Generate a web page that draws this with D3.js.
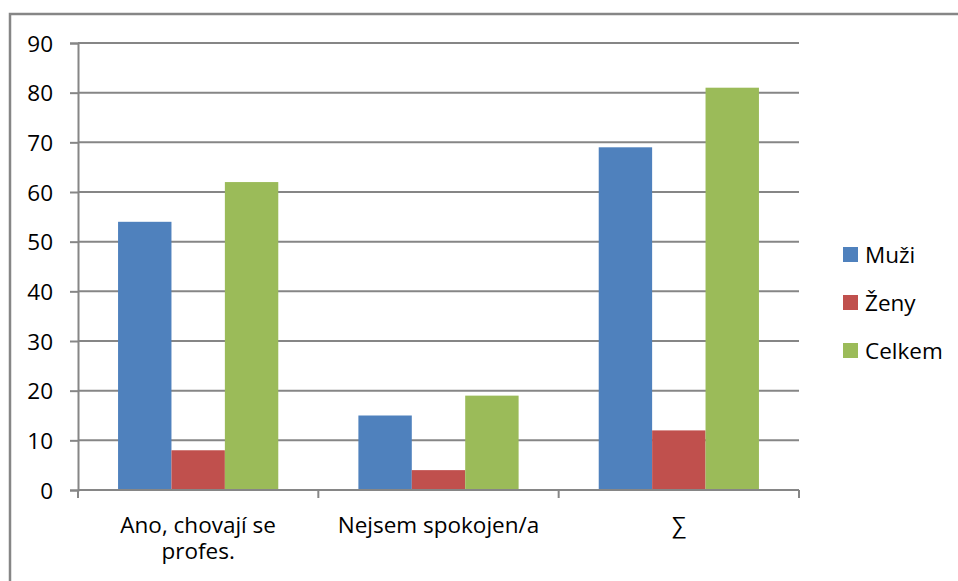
<!DOCTYPE html>
<html>
<head>
<meta charset="utf-8">
<script src="https://cdn.jsdelivr.net/npm/d3@7"></script>
<style>
  body { margin: 0; background: #fff; }
  svg text { font-family: "Open Sans", "Noto Sans", sans-serif; fill: #000; }
</style>
</head>
<body>
<div id="chart"></div>
<script>
// chart data
const categories = [["Ano, chovají se", "profes."], ["Nejsem spokojen/a"], ["∑"]];
const seriesNames = ["Muži", "Ženy", "Celkem"];
const seriesColors = ["#4F81BD", "#C0504D", "#9BBB59"];
const muzi = [54, 15, 69];
const zeny = [8, 4, 12];
const celkem = [62, 19, 81];
const yTicks = [0, 10, 20, 30, 40, 50, 60, 70, 80, 90];

const seriesValues = [muzi, zeny, celkem];

const width = 958, height = 581;
const plot = { left: 78, right: 799, top: 43, bottom: 490 };
const gridColor = "#868686";
const fontSize = "22.5px";

const svg = d3.select("#chart").append("svg")
  .attr("width", width)
  .attr("height", height);

// outer chart border (right and bottom run off the picture)
svg.append("rect")
  .attr("x", 10).attr("y", 14)
  .attr("width", 1000).attr("height", 700)
  .attr("fill", "none")
  .attr("stroke", gridColor)
  .attr("stroke-width", 2.5);

const x0 = d3.scaleBand()
  .domain(d3.range(categories.length))
  .range([plot.left, plot.right]);

// Excel-like gap width of 150%
const x1 = d3.scaleBand()
  .domain(d3.range(seriesNames.length))
  .range([0, x0.bandwidth()])
  .paddingInner(0)
  .paddingOuter(0.75);

const y = d3.scaleLinear()
  .domain([0, 90])
  .range([plot.bottom, plot.top]);

// gridlines
svg.append("g")
  .selectAll("line")
  .data(yTicks.filter(d => d > 0))
  .enter()
  .append("line")
  .attr("x1", plot.left)
  .attr("x2", plot.right)
  .attr("y1", d => y(d))
  .attr("y2", d => y(d))
  .attr("stroke", gridColor)
  .attr("stroke-width", 2);

// bars
const groups = svg.append("g")
  .selectAll("g")
  .data(categories)
  .enter()
  .append("g")
  .attr("transform", (d, i) => `translate(${x0(i)},0)`);

groups.selectAll("rect")
  .data((d, i) => seriesValues.map((vals, s) => ({ s, v: vals[i] })))
  .enter()
  .append("rect")
  .attr("x", d => x1(d.s))
  .attr("y", d => y(d.v))
  .attr("width", x1.bandwidth())
  .attr("height", d => y(0) - y(d.v))
  .attr("fill", d => seriesColors[d.s]);

// y axis
const yAxis = svg.append("g")
  .attr("transform", `translate(${plot.left},0)`)
  .call(d3.axisLeft(y).tickValues(yTicks).tickSize(8).tickPadding(17));
yAxis.select(".domain").attr("stroke", gridColor).attr("stroke-width", 2);
yAxis.selectAll(".tick line").attr("stroke", gridColor).attr("stroke-width", 2);
yAxis.selectAll("text")
  .style("font-size", fontSize)
  .style("font-family", "'Open Sans', sans-serif")
  .attr("dy", "0.36em");

// x axis
const xAxisG = svg.append("g").attr("transform", `translate(0,${plot.bottom})`);
xAxisG.append("line")
  .attr("x1", plot.left).attr("x2", plot.right)
  .attr("y1", 0).attr("y2", 0)
  .attr("stroke", gridColor).attr("stroke-width", 2);
xAxisG.selectAll(".cat-tick")
  .data(d3.range(categories.length + 1))
  .enter()
  .append("line")
  .attr("x1", i => i < categories.length ? x0(i) : plot.right)
  .attr("x2", i => i < categories.length ? x0(i) : plot.right)
  .attr("y1", 0).attr("y2", 8)
  .attr("stroke", gridColor).attr("stroke-width", 2);

const labels = xAxisG.selectAll(".cat-label")
  .data(categories)
  .enter()
  .append("text")
  .attr("text-anchor", "middle")
  .attr("x", (d, i) => x0(i) + x0.bandwidth() / 2)
  .attr("y", 43)
  .style("font-size", fontSize);
labels.selectAll("tspan")
  .data(d => d)
  .enter()
  .append("tspan")
  .attr("x", function () { return d3.select(this.parentNode).attr("x"); })
  .attr("dy", (d, i) => i === 0 ? 0 : 26)
  .text(d => d);

// legend
const legend = svg.append("g").attr("transform", "translate(843,247)");
const items = legend.selectAll("g")
  .data(seriesNames)
  .enter()
  .append("g")
  .attr("transform", (d, i) => `translate(0,${i * 48})`);
items.append("rect")
  .attr("width", 15).attr("height", 15)
  .attr("fill", (d, i) => seriesColors[i]);
items.append("text")
  .attr("x", 22)
  .attr("y", 8)
  .attr("dy", "0.36em")
  .style("font-size", fontSize)
  .text(d => d);
</script>
</body>
</html>
